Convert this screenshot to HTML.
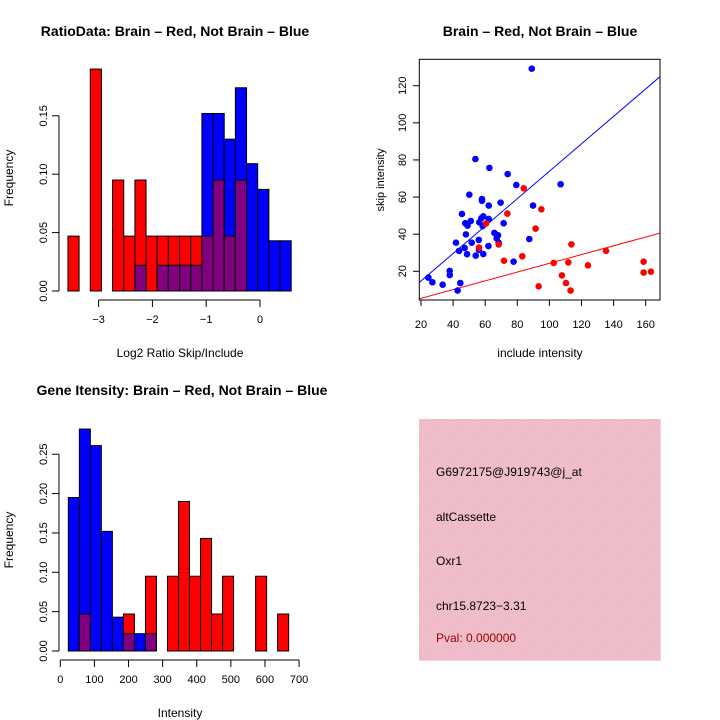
<!DOCTYPE html>
<html><head><meta charset="utf-8"><style>
html,body{margin:0;padding:0;background:#fff;}
svg{display:block;font-family:"Liberation Sans",sans-serif;}
</style></head><body>
<svg id="s" width="720" height="720" xmlns="http://www.w3.org/2000/svg">
<defs>
<pattern id="hatch" width="3" height="3" patternUnits="userSpaceOnUse">
<rect width="3" height="3" fill="#f3c3cf"/><path d="M0,3L3,0" stroke="#e6aebc" stroke-width="0.7"/>
</pattern>
</defs>
</svg>
<script>
// ---- Ratio histogram data (bins of ~0.2 log2 units) ----
const ratioRed  = [0.047,0,0.19,0,0.095,0.047,0.095,0.047,0.047,0.047,0.047,0.047,0.047,0.095,0.047,0.095,0,0,0,0];
const ratioBlue = [0,0,0,0,0,0,0.022,0,0.022,0.022,0.022,0.022,0.152,0.152,0.130,0.174,0.109,0.087,0.043,0.043];
const ratioBinStart = -3.57, ratioBinWidth = 0.2075;
const ratioXTicks = [-3,-2,-1,0];
const ratioYTicks = [0,0.05,0.10,0.15];
const ratioYLabels = ["0.00","0.05","0.10","0.15"];
// ---- Intensity histogram data ----
const intRed  = [0,0.047,0,0,0,0.047,0,0.095,0,0.095,0.19,0.095,0.143,0.047,0.095,0,0,0.095,0,0.047];
const intBlue = [0.195,0.282,0.261,0.152,0.043,0.022,0.022,0.022,0,0,0,0,0,0,0,0,0,0,0,0];
const intBinStart = 23.5, intBinWidth = 32.3;
const intXTicks = [0,100,200,300,400,500,600,700];
const intYTicks = [0,0.05,0.10,0.15,0.20,0.25];
const intYLabels = ["0.00","0.05","0.10","0.15","0.20","0.25"];
// ---- Scatter data ----
const blueX = [89,53.9,62.6,74,79.4,107,50.1,58,58,62.2,69.6,89.8,45.5,51,58.8,57.6,62.2,47.6,49,56.3,58.4,71.5,48,65.7,68,67.1,68.4,41.8,51.6,56,87.5,62,56.1,43.7,47.2,48.7,54.1,58.8,77.7,37.9,37.9,24.6,27.1,33.5,44.5,42.8];
const blueY = [129.2,80.5,75.7,72.4,66.5,66.9,61.3,58,58.9,55.4,57,55.4,50.9,47.1,49.6,48.6,48.2,45.9,44.6,46.4,44.4,45.9,39.9,40.7,39.4,37.8,35.4,35.4,35.4,36.9,37.4,33.6,31.5,31,32.6,29.2,28.4,29.3,25.2,20.2,18,16.6,14.1,12.8,13.7,9.6];
const redX = [84,95,73.8,60.5,91.4,113.7,68.4,56.1,135.3,83.1,71.7,102.7,111.8,124,158.7,158.7,163.3,107.8,110.3,93.3,113.2];
const redY = [64.7,53.4,51.1,45.7,43,34.5,34.5,32.8,31,28.1,25.7,24.5,24.8,23.2,25.2,19.3,19.8,17.8,13.7,11.9,9.6];
const blueFit = [0.02,0.739]; // intercept, slope
const redFit = [0.7,0.236];
const scXTicks = [20,40,60,80,100,120,140,160];
const scYTicks = [20,40,60,80,100,120];

const S=document.getElementById('s'), NS='http://www.w3.org/2000/svg';
function el(t,a,p){const e=document.createElementNS(NS,t);for(const k in a)e.setAttribute(k,a[k]);(p||S).appendChild(e);return e;}
function txt(s,a,p){const e=el('text',a,p);e.textContent=s;return e;}

function hist(g,red,blue,start,w,sx,sy){
  for(let i=0;i<red.length;i++){
    const r=red[i],b=blue[i],x0=sx(start+i*w),x1=sx(start+(i+1)*w);
    const mx=Math.max(r,b),mn=Math.min(r,b);
    if(mx>0){
      const bar=el('rect',{x:x0,y:sy(mx),width:x1-x0,height:sy(0)-sy(mx),fill:r>=b?'#ff0000':'#0000ff',stroke:'#000','stroke-width':1},g);
      
      
    }
    if(mn>0){
      const pb=el('rect',{x:x0,y:sy(mn),width:x1-x0,height:sy(0)-sy(mn),fill:'#800080',stroke:'#000','stroke-width':1},g);
      
      
    }
  }
}
function yaxis(g,x,ticks,labels,sy){
  el('line',{x1:x,x2:x,y1:sy(ticks[0]),y2:sy(ticks[ticks.length-1]),stroke:'#000'},g);
  ticks.forEach((t,i)=>{const y=sy(t);el('line',{x1:x-7,x2:x,y1:y,y2:y,stroke:'#000'},g);
    txt(labels[i],{x:0,y:0,'font-size':11,'text-anchor':'middle',transform:`translate(${x-12},${y}) rotate(-90)`},g);});
}
function xaxis(g,y,ticks,sx){
  el('line',{x1:sx(ticks[0]),x2:sx(ticks[ticks.length-1]),y1:y,y2:y,stroke:'#000'},g);
  ticks.forEach(t=>{const x=sx(t);el('line',{x1:x,x2:x,y1:y,y2:y+7,stroke:'#000'},g);
    txt(String(t).replace('-','\u2212'),{x:x,y:y+23,'font-size':11,'text-anchor':'middle'},g);});
}

// Panel 1
{const g=el('g',{});
 const sx=v=>260+(v)*53.8, sy=v=>291-v*(58.4/0.05);
 txt('RatioData: Brain \u2013 Red, Not Brain \u2013 Blue',{x:175,y:36,'font-size':14,'font-weight':'bold','text-anchor':'middle'},g);
 hist(g,ratioRed,ratioBlue,ratioBinStart,ratioBinWidth,sx,sy);
 yaxis(g,59,ratioYTicks,ratioYLabels,sy);
 xaxis(g,300,ratioXTicks,sx);
 txt('Log2 Ratio Skip/Include',{x:180,y:357,'font-size':12,'text-anchor':'middle'},g);
 txt('Frequency',{x:0,y:0,'font-size':12,'text-anchor':'middle',transform:'translate(13,178) rotate(-90)'},g);
}
// Panel 3
{const g=el('g',{});
 const sx=v=>60.3+v*0.3411, sy=v=>651-v*(39.35/0.05);
 txt('Gene Itensity: Brain \u2013 Red, Not Brain \u2013 Blue',{x:182,y:395,'font-size':14,'font-weight':'bold','text-anchor':'middle'},g);
 hist(g,intRed,intBlue,intBinStart,intBinWidth,sx,sy);
 yaxis(g,59,intYTicks,intYLabels,sy);
 xaxis(g,660,intXTicks,sx);
 txt('Intensity',{x:180,y:717,'font-size':12,'text-anchor':'middle'},g);
 txt('Frequency',{x:0,y:0,'font-size':12,'text-anchor':'middle',transform:'translate(13,540) rotate(-90)'},g);
}
// Panel 2 scatter
{const g=el('g',{});
 const sx=v=>421+(v-20)*1.605, sy=v=>271.3-(v-20)*1.856;
 txt('Brain \u2013 Red, Not Brain \u2013 Blue',{x:540,y:36,'font-size':14,'font-weight':'bold','text-anchor':'middle'},g);
 const cp=el('clipPath',{id:'cp'},g);el('rect',{x:419.3,y:59.3,width:240.7,height:240.7},cp);
 const lg=el('g',{'clip-path':'url(#cp)'},g);
 [[blueFit,'#0000ff','blue-fit-line'],[redFit,'#ff0000','red-fit-line']].forEach(([f,c,n])=>{
   const l=el('line',{x1:sx(10),y1:sy(f[0]+f[1]*10),x2:sx(180),y2:sy(f[0]+f[1]*180),stroke:c,'stroke-width':1},lg);
   });
 blueX.forEach((x,i)=>{const p=el('circle',{cx:sx(x),cy:sy(blueY[i]),r:3.3,fill:'#0000ff'},lg);
   });
 redX.forEach((x,i)=>{const p=el('circle',{cx:sx(x),cy:sy(redY[i]),r:3.3,fill:'#ff0000'},lg);
   });
 el('rect',{x:419.3,y:59.3,width:240.7,height:240.7,fill:'none',stroke:'#000'},g);
 scXTicks.forEach(t=>{const x=sx(t);el('line',{x1:x,x2:x,y1:300,y2:306,stroke:'#000'},g);
   txt(String(t),{x:x,y:328,'font-size':11,'text-anchor':'middle'},g);});
 scYTicks.forEach(t=>{const y=sy(t);el('line',{x1:413,x2:419.3,y1:y,y2:y,stroke:'#000'},g);
   txt(String(t),{x:0,y:0,'font-size':11,'text-anchor':'middle',transform:`translate(406,${y}) rotate(-90)`},g);});
 txt('include intensity',{x:540,y:357,'font-size':12,'text-anchor':'middle'},g);
 txt('skip intensity',{x:0,y:0,'font-size':11,'text-anchor':'middle',transform:'translate(384,180) rotate(-90)'},g);
}
// Panel 4 info box
{const g=el('g',{});
 el('rect',{x:419,y:419,width:241.7,height:241.7,fill:'url(#hatch)'},g);
 [['G6972175@J919743@j_at',476,'#000','probe-id'],['altCassette',521,'#000','event-type'],['Oxr1',565,'#000','gene-name'],['chr15.8723\u22123.31',610,'#000','location'],['Pval: 0.000000',642,'#a00000','p-value']].forEach(([s,y,c,n])=>{
   const t=txt(s,{x:436,y:y,'font-size':12,fill:c},g);});
}
</script>
</body></html>
